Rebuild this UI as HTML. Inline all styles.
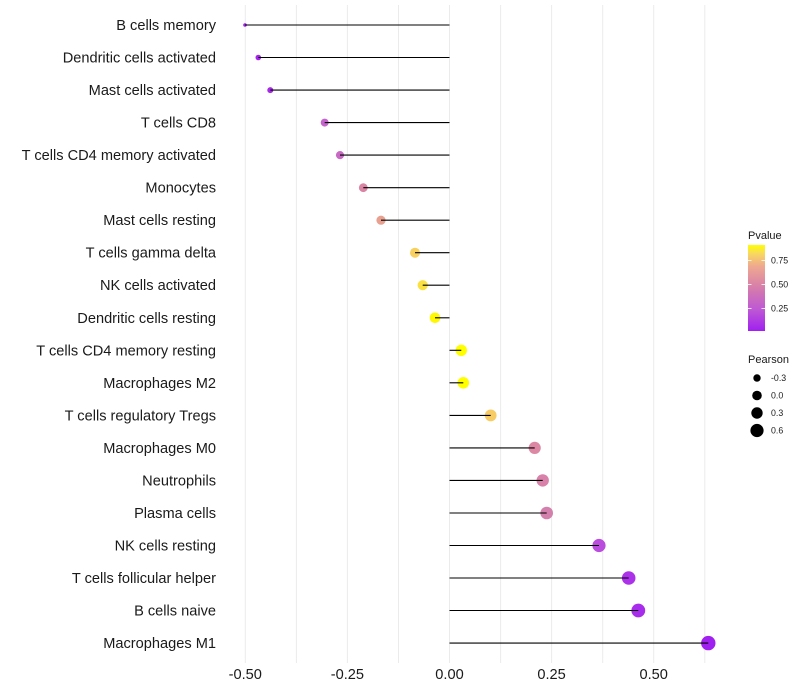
<!DOCTYPE html>
<html><head><meta charset="utf-8"><style>
html,body{margin:0;padding:0;background:#fff;}
svg{display:block;font-family:"Liberation Sans",Arial,sans-serif;}
</style></head><body>
<svg width="800" height="700" viewBox="0 0 800 700" xmlns="http://www.w3.org/2000/svg">
<defs>
<linearGradient id="pg" x1="0" y1="1" x2="0" y2="0">
<stop offset="0" stop-color="#A020F0"/>
<stop offset="0.25" stop-color="#BE58D4"/>
<stop offset="0.5" stop-color="#D67CAC"/>
<stop offset="0.75" stop-color="#EEA890"/>
<stop offset="0.9" stop-color="#F8D860"/>
<stop offset="1" stop-color="#FFFF00"/>
</linearGradient>
</defs>
<rect width="800" height="700" fill="#fff"/>
<g stroke="#EBEBEB" stroke-width="1">
<line x1="245.3" y1="5" x2="245.3" y2="663"/>
<line x1="296.4" y1="5" x2="296.4" y2="663"/>
<line x1="347.4" y1="5" x2="347.4" y2="663"/>
<line x1="398.5" y1="5" x2="398.5" y2="663"/>
<line x1="449.5" y1="5" x2="449.5" y2="663"/>
<line x1="500.6" y1="5" x2="500.6" y2="663"/>
<line x1="551.6" y1="5" x2="551.6" y2="663"/>
<line x1="602.7" y1="5" x2="602.7" y2="663"/>
<line x1="653.7" y1="5" x2="653.7" y2="663"/>
<line x1="704.8" y1="5" x2="704.8" y2="663"/>
</g>
<!-- points -->
<g>
<circle cx="245" cy="25" r="1.8" fill="#A020F0"/>
<circle cx="258.3" cy="57.5" r="2.8" fill="#A424EC"/>
<circle cx="270.3" cy="90.1" r="3" fill="#A628E8"/>
<circle cx="324.7" cy="122.6" r="4" fill="#C464CC"/>
<circle cx="340" cy="155.1" r="4.1" fill="#C86AC4"/>
<circle cx="363.3" cy="187.7" r="4.4" fill="#DA84A4"/>
<circle cx="381" cy="220.2" r="4.6" fill="#E8A090"/>
<circle cx="415" cy="252.7" r="5" fill="#F8D060"/>
<circle cx="422.7" cy="285.2" r="5.1" fill="#FAE040"/>
<circle cx="435" cy="317.8" r="5.3" fill="#FFF800"/>
<circle cx="461.3" cy="350.3" r="5.7" fill="#FFFF00"/>
<circle cx="463.3" cy="382.8" r="5.8" fill="#FFFF00"/>
<circle cx="490.7" cy="415.4" r="5.9" fill="#F8CC64"/>
<circle cx="534.7" cy="447.9" r="6.1" fill="#DC88A4"/>
<circle cx="542.7" cy="480.4" r="6.2" fill="#D882AA"/>
<circle cx="546.7" cy="513" r="6.3" fill="#D480AC"/>
<circle cx="599" cy="545.5" r="6.6" fill="#BA4CDE"/>
<circle cx="628.7" cy="578" r="6.8" fill="#AC32EA"/>
<circle cx="638.3" cy="610.5" r="6.9" fill="#A82CEC"/>
<circle cx="708.3" cy="643.1" r="7.2" fill="#A020F0"/>
</g>
<!-- segments -->
<g stroke="#000" stroke-width="1.1">
<line x1="449.5" y1="25" x2="245" y2="25"/>
<line x1="449.5" y1="57.5" x2="258.3" y2="57.5"/>
<line x1="449.5" y1="90.1" x2="270.3" y2="90.1"/>
<line x1="449.5" y1="122.6" x2="324.7" y2="122.6"/>
<line x1="449.5" y1="155.1" x2="340" y2="155.1"/>
<line x1="449.5" y1="187.7" x2="363.3" y2="187.7"/>
<line x1="449.5" y1="220.2" x2="381" y2="220.2"/>
<line x1="449.5" y1="252.7" x2="415" y2="252.7"/>
<line x1="449.5" y1="285.2" x2="422.7" y2="285.2"/>
<line x1="449.5" y1="317.8" x2="435" y2="317.8"/>
<line x1="449.5" y1="350.3" x2="461.3" y2="350.3"/>
<line x1="449.5" y1="382.8" x2="463.3" y2="382.8"/>
<line x1="449.5" y1="415.4" x2="490.7" y2="415.4"/>
<line x1="449.5" y1="447.9" x2="534.7" y2="447.9"/>
<line x1="449.5" y1="480.4" x2="542.7" y2="480.4"/>
<line x1="449.5" y1="513" x2="546.7" y2="513"/>
<line x1="449.5" y1="545.5" x2="599" y2="545.5"/>
<line x1="449.5" y1="578" x2="628.7" y2="578"/>
<line x1="449.5" y1="610.5" x2="638.3" y2="610.5"/>
<line x1="449.5" y1="643.1" x2="708.3" y2="643.1"/>
</g>
<!-- y labels -->
<g font-size="14.6" fill="#1a1a1a" text-anchor="end">
<text x="216" y="30">B cells memory</text>
<text x="216" y="62.5">Dendritic cells activated</text>
<text x="216" y="95.1">Mast cells activated</text>
<text x="216" y="127.6">T cells CD8</text>
<text x="216" y="160.1">T cells CD4 memory activated</text>
<text x="216" y="192.7">Monocytes</text>
<text x="216" y="225.2">Mast cells resting</text>
<text x="216" y="257.7">T cells gamma delta</text>
<text x="216" y="290.2">NK cells activated</text>
<text x="216" y="322.8">Dendritic cells resting</text>
<text x="216" y="355.3">T cells CD4 memory resting</text>
<text x="216" y="387.8">Macrophages M2</text>
<text x="216" y="420.4">T cells regulatory  Tregs </text>
<text x="216" y="452.9">Macrophages M0</text>
<text x="216" y="485.4">Neutrophils</text>
<text x="216" y="518">Plasma cells</text>
<text x="216" y="550.5">NK cells resting</text>
<text x="216" y="583">T cells follicular helper</text>
<text x="216" y="615.5">B cells naive</text>
<text x="216" y="648.1">Macrophages M1</text>
</g>
<!-- x labels -->
<g font-size="14.6" fill="#1a1a1a" text-anchor="middle">
<text x="245.3" y="679">-0.50</text>
<text x="347.4" y="679">-0.25</text>
<text x="449.5" y="679">0.00</text>
<text x="551.6" y="679">0.25</text>
<text x="653.7" y="679">0.50</text>
</g>
<!-- legend: Pvalue -->
<text x="748" y="239" font-size="11" fill="#1a1a1a">Pvalue</text>
<rect x="748" y="245" width="17" height="86" fill="url(#pg)"/>
<g stroke="#fff" stroke-width="1" opacity="0.8">
<line x1="748" y1="260.5" x2="751.5" y2="260.5"/><line x1="761.5" y1="260.5" x2="765" y2="260.5"/>
<line x1="748" y1="284.5" x2="751.5" y2="284.5"/><line x1="761.5" y1="284.5" x2="765" y2="284.5"/>
<line x1="748" y1="308.5" x2="751.5" y2="308.5"/><line x1="761.5" y1="308.5" x2="765" y2="308.5"/>
</g>
<g font-size="8.8" fill="#1a1a1a">
<text x="771" y="263.5">0.75</text>
<text x="771" y="287.5">0.50</text>
<text x="771" y="311.5">0.25</text>
</g>
<!-- legend: Pearson -->
<text x="748" y="363" font-size="11" fill="#1a1a1a">Pearson</text>
<g fill="#000">
<circle cx="757" cy="378" r="3.7"/>
<circle cx="757" cy="395.5" r="4.8"/>
<circle cx="757" cy="413" r="5.7"/>
<circle cx="757" cy="430.5" r="6.6"/>
</g>
<g font-size="8.8" fill="#1a1a1a">
<text x="771" y="381">-0.3</text>
<text x="771" y="398.5">0.0</text>
<text x="771" y="416">0.3</text>
<text x="771" y="433.5">0.6</text>
</g>
</svg>
</body></html>
